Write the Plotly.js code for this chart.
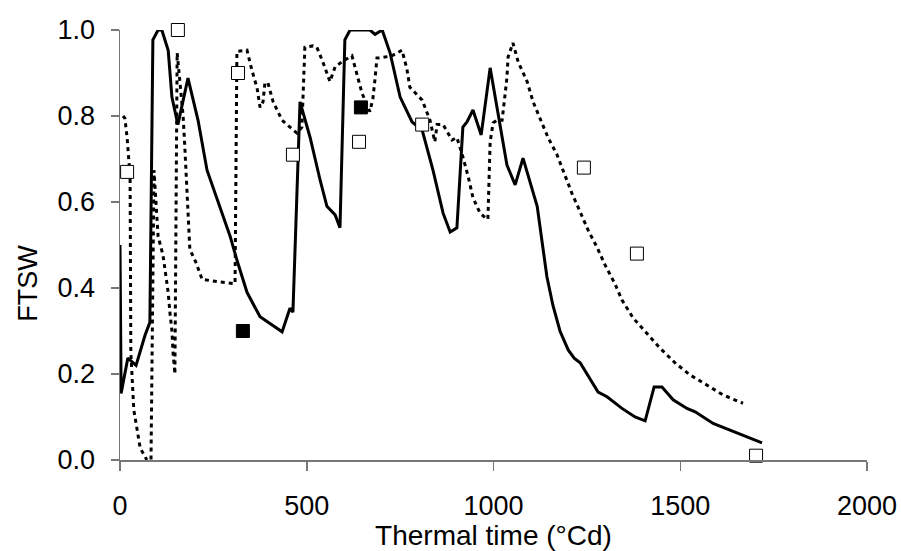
<!DOCTYPE html>
<html>
<head>
<meta charset="utf-8">
<script src="https://cdn.plot.ly/plotly-3.0.1.min.js"></script>
<style>html,body{margin:0;padding:0;background:#fff;}#chart{width:901px;height:551px;}</style>
</head>
<body>
<div id="chart"></div>
<script>
// Simulated FTSW, solid line
var solidX = [0, 3, 21, 43, 67, 80, 88, 102, 112, 129, 139, 155, 182, 209, 233, 260, 295, 313, 340, 375, 434, 455, 463, 482, 509, 536, 554, 576, 589, 602, 616, 669, 683, 702, 723, 750, 782, 809, 838, 865, 884, 902, 918, 929, 945, 967, 991, 1036, 1058, 1079, 1117, 1143, 1159, 1178, 1200, 1216, 1232, 1280, 1304, 1344, 1379, 1406, 1430, 1451, 1481, 1518, 1540, 1588, 1633, 1668, 1719];
var solidY = [0.50, 0.155, 0.237, 0.22, 0.29, 0.32, 0.977, 1.0, 1.0, 0.953, 0.844, 0.78, 0.888, 0.79, 0.674, 0.605, 0.52, 0.465, 0.39, 0.333, 0.298, 0.353, 0.344, 0.833, 0.75, 0.65, 0.59, 0.57, 0.54, 0.977, 1.0, 1.0, 0.99, 1.0, 0.947, 0.844, 0.786, 0.767, 0.674, 0.574, 0.53, 0.54, 0.774, 0.786, 0.814, 0.756, 0.912, 0.686, 0.64, 0.702, 0.59, 0.426, 0.36, 0.30, 0.256, 0.237, 0.226, 0.158, 0.147, 0.12, 0.10, 0.091, 0.17, 0.17, 0.14, 0.12, 0.112, 0.085, 0.07, 0.058, 0.04];

// Simulated FTSW, dotted line
var dotX = [8, 13, 19, 24, 27, 29, 35, 37, 46, 54, 72, 83, 91, 102, 115, 123, 129, 134, 139, 142, 145, 147, 153, 161, 166, 169, 174, 179, 185, 187, 203, 220, 268, 308, 313, 340, 353, 367, 375, 383, 388, 396, 410, 434, 474, 487, 495, 517, 527, 543, 562, 576, 594, 621, 635, 648, 669, 677, 683, 688, 696, 728, 755, 768, 776, 809, 830, 843, 849, 865, 889, 902, 918, 932, 945, 964, 983, 985, 991, 999, 1009, 1023, 1031, 1036, 1039, 1052, 1066, 1090, 1106, 1125, 1146, 1170, 1191, 1210, 1232, 1253, 1277, 1299, 1325, 1344, 1374, 1411, 1446, 1486, 1526, 1572, 1615, 1668];
var dotY = [0.80, 0.795, 0.75, 0.705, 0.66, 0.25, 0.163, 0.116, 0.07, 0.028, 0.0, 0.0, 0.674, 0.52, 0.477, 0.43, 0.39, 0.34, 0.30, 0.25, 0.20, 0.20, 0.947, 0.87, 0.84, 0.80, 0.72, 0.628, 0.54, 0.49, 0.46, 0.42, 0.414, 0.41, 0.95, 0.953, 0.907, 0.865, 0.82, 0.833, 0.877, 0.877, 0.833, 0.79, 0.76, 0.774, 0.96, 0.963, 0.96, 0.926, 0.88, 0.914, 0.926, 0.94, 0.895, 0.853, 0.81, 0.84, 0.888, 0.935, 0.935, 0.94, 0.953, 0.91, 0.867, 0.837, 0.79, 0.74, 0.78, 0.78, 0.744, 0.75, 0.705, 0.66, 0.61, 0.574, 0.56, 0.56, 0.74, 0.784, 0.79, 0.79, 0.85, 0.89, 0.937, 0.97, 0.926, 0.88, 0.833, 0.795, 0.75, 0.71, 0.663, 0.62, 0.577, 0.535, 0.495, 0.453, 0.41, 0.372, 0.33, 0.295, 0.26, 0.226, 0.198, 0.174, 0.151, 0.132];

// Observed FTSW (open squares)
var openX = [19, 155, 316, 463, 640, 809, 1242, 1384, 1703];
var openY = [0.67, 1.0, 0.90, 0.71, 0.74, 0.78, 0.68, 0.48, 0.01];

// Observed FTSW (filled squares)
var fillX = [329, 645];
var fillY = [0.30, 0.82];

var xTicks = [0, 500, 1000, 1500, 2000];
var yTicks = [0, 0.2, 0.4, 0.6, 0.8, 1.0];

var FONT = 'Arial, "Liberation Sans", sans-serif';
var FS = 27;
var TFS = 28;

var traces = [
  {x: dotX, y: dotY, mode: 'lines', line: {color: '#000', width: 3, dash: '4px,4px'}, hoverinfo: 'skip'},
  {x: solidX, y: solidY, mode: 'lines', line: {color: '#000', width: 3}, hoverinfo: 'skip'},
  {x: openX, y: openY, mode: 'markers', marker: {symbol: 'square', size: 13, color: '#fff', line: {color: '#000', width: 1}}, cliponaxis: false},
  {x: fillX, y: fillY, mode: 'markers', marker: {symbol: 'square', size: 13, color: '#000', line: {color: '#000', width: 1}}, cliponaxis: false}
];

var layout = {
  width: 901, height: 551,
  margin: {l: 120, r: 34, t: 30, b: 91},
  paper_bgcolor: '#fff', plot_bgcolor: '#fff',
  showlegend: false,
  font: {family: FONT, color: '#000', size: FS},
  xaxis: {
    range: [0, 2000], tickvals: xTicks, ticktext: xTicks.map(String),
    showgrid: false, zeroline: false, showline: true, linecolor: '#777', linewidth: 1.5,
    ticks: 'outside', ticklen: 9, tickwidth: 1.5, tickcolor: '#777',
    ticklabelstandoff: 12,
    tickfont: {family: FONT, size: FS, color: '#000'},
    title: {text: 'Thermal time (°Cd)', font: {family: FONT, size: TFS, color: '#000'}, standoff: 4}
  },
  yaxis: {
    range: [0, 1], tickvals: yTicks, ticktext: yTicks.map(function(v){return v.toFixed(1);}),
    showgrid: false, zeroline: false, showline: true, linecolor: '#777', linewidth: 1.5,
    ticks: 'outside', ticklen: 8, tickwidth: 1.5, tickcolor: '#777',
    ticklabelstandoff: 10,
    tickfont: {family: FONT, size: FS, color: '#000'}
  },
  annotations: [{
    text: 'FTSW', textangle: -90, showarrow: false,
    xref: 'paper', yref: 'paper', x: -0.123, y: 0.41, xanchor: 'center', yanchor: 'middle',
    font: {family: FONT, size: FS, color: '#000'}
  }]
};

Plotly.newPlot('chart', traces, layout, {staticPlot: true, displayModeBar: false});
</script>
</body>
</html>
